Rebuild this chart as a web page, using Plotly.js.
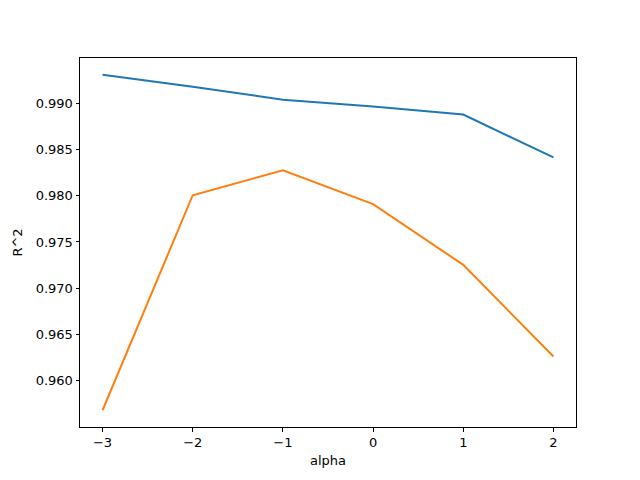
<!DOCTYPE html>
<html>
<head>
<meta charset="utf-8">
<script src="https://cdn.plot.ly/plotly-3.0.1.min.js"></script>
<style>
  html, body { margin: 0; padding: 0; background: #fff; }
  #plot { width: 640px; height: 480px; }
</style>
</head>
<body>
<div id="plot"></div>
<script>
// log10(alpha) on the x axis
var alphas = [-3, -2, -1, 0, 1, 2];
// R^2 values
var r2Train = [0.99313, 0.99183, 0.99043, 0.98968, 0.98881, 0.98417];
var r2Test = [0.95676, 0.98007, 0.98277, 0.97910, 0.97252, 0.96259];
// y tick positions shown
var yTicks = [0.960, 0.965, 0.970, 0.975, 0.980, 0.985, 0.990];

var traces = [
  { x: alphas, y: r2Train, mode: 'lines', line: { color: '#1f77b4', width: 2 } },
  { x: alphas, y: r2Test, mode: 'lines', line: { color: '#ff7f0e', width: 2 } }
];

var axisStyle = {
  showgrid: false, zeroline: false,
  showline: true, mirror: true, linecolor: '#000', linewidth: 1,
  ticks: 'outside', ticklen: 3.5, tickwidth: 1, tickcolor: '#000',
  tickfont: { family: 'DejaVu Sans', size: 13, color: '#000' }
};

var layout = {
  width: 640, height: 480,
  margin: { l: 80, r: 64, t: 57.6, b: 52.8 },
  paper_bgcolor: '#fff', plot_bgcolor: '#fff',
  showlegend: false,
  font: { family: 'DejaVu Sans', size: 13, color: '#000' },
  xaxis: Object.assign({}, axisStyle, {
    range: [-3.25, 2.25], dtick: 1,
    title: { text: 'alpha', standoff: 6, font: { family: 'DejaVu Sans', size: 13 } }
  }),
  yaxis: Object.assign({}, axisStyle, {
    range: [0.954945, 0.994945], tickmode: 'array', tickvals: yTicks, tickformat: '.3f',
    title: { text: 'R^2', standoff: 10, font: { family: 'DejaVu Sans', size: 13 } }
  })
};

Plotly.newPlot('plot', traces, layout, { staticPlot: true });
</script>
</body>
</html>
